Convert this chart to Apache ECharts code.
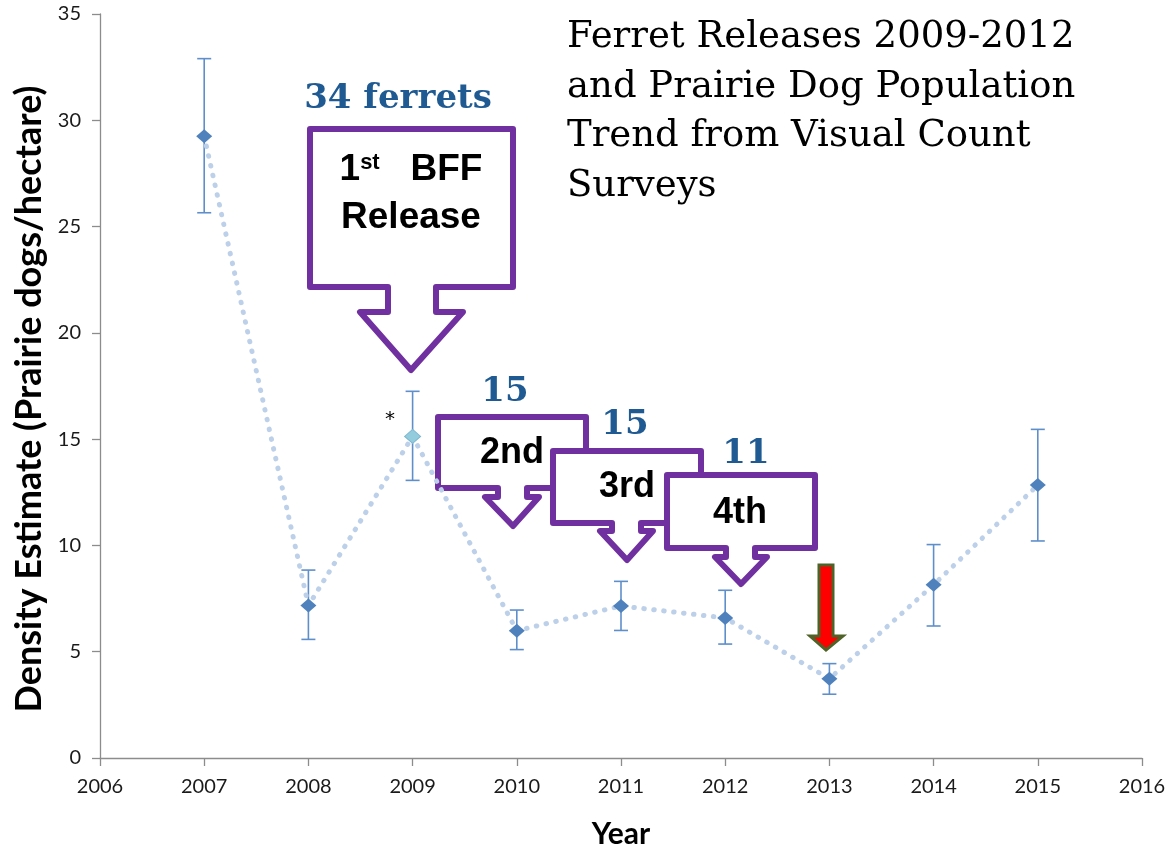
<!DOCTYPE html>
<html>
<head>
<meta charset="utf-8">
<script src="https://cdn.jsdelivr.net/npm/echarts@6/dist/echarts.min.js"></script>
<style>html,body{margin:0;padding:0;background:#fff}#c{width:1175px;height:847px}</style>
</head>
<body>
<div id="c"></div>
<script>
const years = [2007, 2008, 2009, 2010, 2011, 2012, 2013, 2014, 2015];
const density = [29.25, 7.17, 15.13, 5.99, 7.15, 6.59, 3.73, 8.15, 12.84];
const errLow = [25.65, 5.58, 13.06, 5.10, 6.00, 5.36, 3.00, 6.21, 10.21];
const errHigh = [32.90, 8.84, 17.25, 6.96, 8.31, 7.89, 4.44, 10.04, 15.46];
const xTicks = [2006, 2016];
const yTicks = [0, 35];
const titleLines = ['Ferret Releases 2009-2012', 'and Prairie Dog Population', 'Trend from Visual Count', 'Surveys'];

const chart = echarts.init(document.getElementById('c'), null, {renderer: 'canvas'});

const purple = '#7030A0';
const blueTxt = '#1F5B92';

function callout(L, R, T, B, sL, sR, wY, wL, wR, tx, ty) {
  return {
    type: 'polygon',
    shape: {points: [[L,T],[R,T],[R,B],[sR,B],[sR,wY],[wR,wY],[tx,ty],[wL,wY],[sL,wY],[sL,B],[L,B]]},
    style: {fill: '#fff', stroke: purple, lineWidth: 6, lineJoin: 'round'}
  };
}
function boxText(x, y, t, size) {
  return {type: 'text', x: x, y: y, style: {text: t, fill: '#000', font: 'bold ' + (size||36) + 'px "Liberation Sans", Arial, sans-serif', align: 'center', verticalAlign: 'middle'}};
}
function blueText(x, y, t) {
  return {type: 'text', x: x, y: y, style: {text: t, fill: blueTxt, font: 'bold 34px "DejaVu Serif", serif', align: 'center', verticalAlign: 'middle'}};
}

const lineData = years.map((y, i) => {
  const d = {value: [y, density[i]]};
  if (y === 2009) d.itemStyle = {color: '#93CDDD', borderColor: '#7FB8D0', borderWidth: 1};
  return d;
});

chart.setOption({
  animation: false,
  grid: {left: 100, right: 33, top: 14, bottom: 89, containLabel: false, outerBoundsMode: 'none'},
  xAxis: {
    type: 'value', min: xTicks[0], max: xTicks[1], interval: 1,
    name: 'Year', nameLocation: 'middle', nameGap: 61,
    nameTextStyle: {fontFamily: 'Lato', fontWeight: 'bold', fontSize: 30, color: '#000'},
    axisLine: {lineStyle: {color: '#8C8C8C', width: 1.3}},
    axisTick: {show: true, length: 8, lineStyle: {color: '#8C8C8C', width: 1.3}},
    axisLabel: {fontFamily: 'Lato', fontSize: 20, color: '#1a1a1a', margin: 19, formatter: v => String(v)},
    splitLine: {show: false}
  },
  yAxis: {
    type: 'value', min: yTicks[0], max: yTicks[1], interval: 5,
    name: 'Density Estimate (Prairie dogs/hectare)', nameLocation: 'middle', nameGap: 51, nameRotate: 90,
    nameTextStyle: {fontFamily: 'Lato', fontWeight: 'bold', fontSize: 36, color: '#000', padding: [0, 26, 0, 0]},
    axisLine: {show: true, lineStyle: {color: '#8C8C8C', width: 1.3}},
    axisTick: {show: true, length: 8, lineStyle: {color: '#8C8C8C', width: 1.3}},
    axisLabel: {fontFamily: 'Lato', fontSize: 20, color: '#1a1a1a', margin: 19},
    splitLine: {show: false}
  },
  series: [
    {
      type: 'custom', z: 2,
      data: years.map((y, i) => [y, errLow[i], errHigh[i]]),
      renderItem: function (params, api) {
        const x = api.value(0);
        const pLo = api.coord([x, api.value(1)]);
        const pHi = api.coord([x, api.value(2)]);
        const w = 7;
        const st = {stroke: '#5E8FCB', lineWidth: 1.6};
        return {type: 'group', children: [
          {type: 'line', shape: {x1: pLo[0], y1: pLo[1], x2: pHi[0], y2: pHi[1]}, style: st},
          {type: 'line', shape: {x1: pLo[0]-w, y1: pLo[1], x2: pLo[0]+w, y2: pLo[1]}, style: st},
          {type: 'line', shape: {x1: pHi[0]-w, y1: pHi[1], x2: pHi[0]+w, y2: pHi[1]}, style: st}
        ]};
      }
    },
    {
      type: 'line', z: 3,
      data: lineData,
      symbol: 'diamond', symbolSize: [16, 14],
      itemStyle: {color: '#4F81BD'},
      lineStyle: {color: '#BDD0E9', width: 5, type: [0.5, 9.5], cap: 'round'}
    }
  ],
  graphic: [
    {type: 'text', left: 567, top: 13, style: {text: titleLines.join('\n'), fill: '#000', font: '37px "DejaVu Serif", serif', lineHeight: 49.5}},
    {type: 'text', x: 390, y: 420, style: {text: '*', fill: '#000', font: '20px "DejaVu Sans", sans-serif', align: 'center', verticalAlign: 'middle'}},
    blueText(398, 99, '34 ferrets'),
    callout(310, 513, 129, 287, 388, 436, 312, 360, 463, 411, 370),
    {type: 'text', x: 411, y: 170, style: {
      text: '{a|1}{b|st}{c|   BFF}', align: 'center', verticalAlign: 'middle',
      rich: {
        a: {font: 'bold 37px "Liberation Sans", Arial, sans-serif', fill: '#000', verticalAlign: 'bottom'},
        b: {font: 'bold 22px "Liberation Sans", Arial, sans-serif', fill: '#000', verticalAlign: 'top', padding: [0,0,12,0]},
        c: {font: 'bold 37px "Liberation Sans", Arial, sans-serif', fill: '#000', verticalAlign: 'bottom'}
      }
    }},
    boxText(411, 218, 'Release', 37),
    blueText(505, 392, '15'),
    callout(438, 586, 417, 488, 498, 527, 497, 485, 539, 513, 526),
    boxText(512, 453, '2nd'),
    blueText(625, 425, '15'),
    callout(553, 701, 451, 523, 612, 641, 531, 600, 653, 627, 560),
    boxText(627, 487, '3rd'),
    blueText(746, 454, '11'),
    callout(667, 815, 475, 548, 726, 755, 557, 715, 767, 741, 584),
    boxText(740, 513, '4th'),
    {type: 'polygon', shape: {points: [[819,565],[833,565],[833,636],[843,636],[826,650],[810,636],[819,636]]},
      style: {fill: '#FF0000', stroke: '#4F6228', lineWidth: 3, lineJoin: 'miter'}}
  ]
});
</script>
</body>
</html>
